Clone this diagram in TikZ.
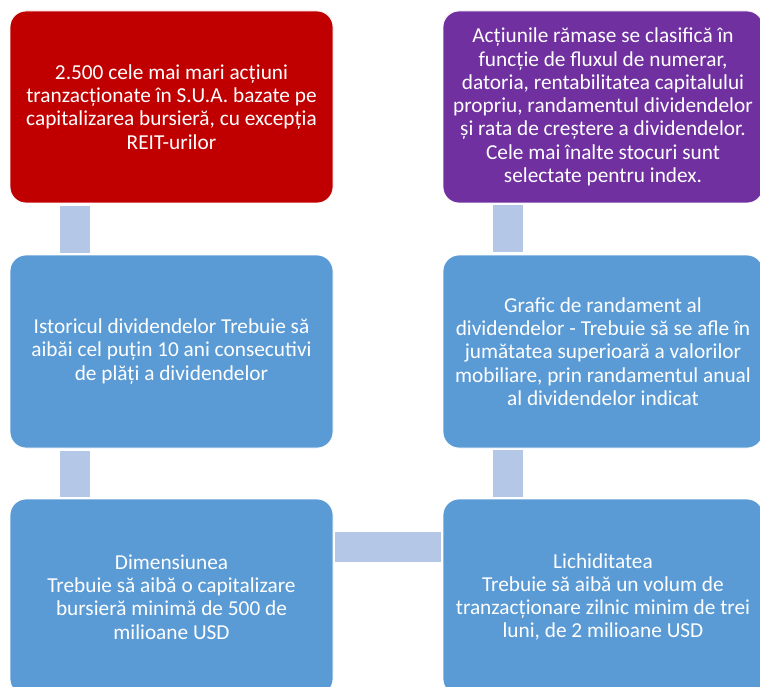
\documentclass[tikz,border=0pt]{standalone}
\usepackage{fontspec}
\setmainfont{Carlito}
\definecolor{boxred}{HTML}{C00000}
\definecolor{boxpurple}{HTML}{7030A0}
\definecolor{boxblue}{HTML}{5B9BD5}
\definecolor{connblue}{HTML}{B4C7E7}
\tikzset{
  card/.style={rounded corners=16pt, draw=white, line width=0.8pt, text=white,
    align=center, inner sep=0pt, font=\fontsize{21.3}{23.3}\selectfont},
  leftcard/.style={card, minimum width=323pt},
  rightcard/.style={card, minimum width=320pt},
  conn/.style={draw=connblue, line width=30pt, line cap=butt},
}
\begin{document}
\begin{tikzpicture}[x=1pt,y=-1pt]
\useasboundingbox (0,0) rectangle (760,687);
\clip (0,0) rectangle (760,687);
\node[leftcard, fill=boxred, minimum height=192pt] (tl) at (171.5,107)
  {2.500 cele mai mari acțiuni\\tranzacționate în S.U.A. bazate pe\\capitalizarea bursieră, cu excepția\\REIT-urilor};
\node[leftcard, fill=boxblue, minimum height=193pt] (ml) at (171.5,351.5)
  {Istoricul dividendelor Trebuie să\\aibăi cel puțin 10 ani consecutivi\\de plăți a dividendelor};
\node[leftcard, fill=boxblue, minimum height=196pt] (bl) at (171.5,597)
  {Dimensiunea\\Trebuie să aibă o capitalizare\\bursieră minimă de 500 de\\milioane USD};
\node[rightcard, fill=boxblue, minimum height=196pt] (br) at (603,597)
  {Lichiditatea\\Trebuie să aibă un volum de\\tranzacționare zilnic minim de trei\\luni, de 2 milioane USD};
\node[rightcard, fill=boxblue, minimum height=193pt] (mr) at (603,351.5)
  {Grafic de randament al\\dividendelor - Trebuie să se afle în\\jumătatea superioară a valorilor\\mobiliare, prin randamentul anual\\al dividendelor indicat};
\node[rightcard, fill=boxpurple, minimum height=192pt] (tr) at (603,107)
  {Acțiunile rămase se clasifică în\\funcție de fluxul de numerar,\\datoria, rentabilitatea capitalului\\propriu, randamentul dividendelor\\și rata de creștere a dividendelor.\\Cele mai înalte stocuri sunt\\selectate pentru index.};
\draw[conn, shorten <=3pt, shorten >=2pt] ([xshift=-96.5pt]tl.south) -- ([xshift=-96.5pt]ml.north);
\draw[conn, shorten <=3pt, shorten >=2pt] ([xshift=-96.5pt]ml.south) -- ([xshift=-96.5pt]bl.north);
\draw[conn, shorten <=2pt, shorten >=2pt] ([yshift=50pt]bl.east) -- ([yshift=50pt]br.west);
\draw[conn, shorten <=2pt, shorten >=2pt] ([xshift=-95pt]br.north) -- ([xshift=-95pt]mr.south);
\draw[conn, shorten <=3pt, shorten >=2pt] ([xshift=-95pt]mr.north) -- ([xshift=-95pt]tr.south);
\end{tikzpicture}
\end{document}
